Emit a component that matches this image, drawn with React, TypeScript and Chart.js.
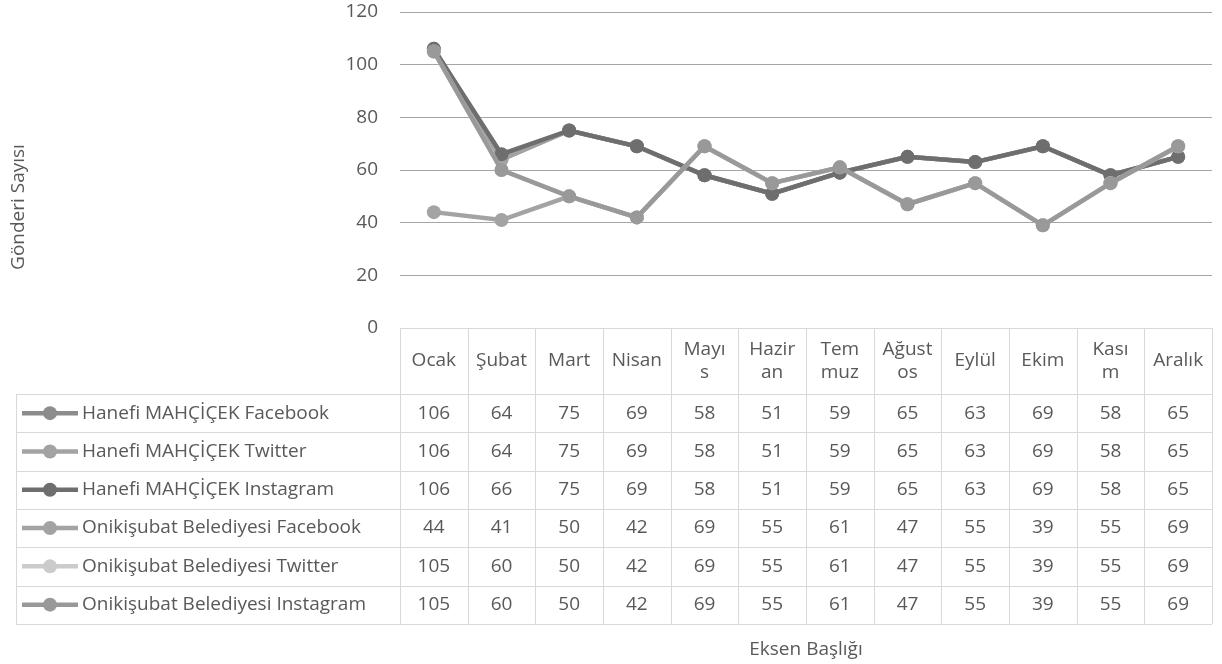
import React, { useEffect, useRef } from 'react';
import { Chart, registerables } from 'chart.js';

Chart.register(...registerables);

const categories = ['Ocak', 'Şubat', 'Mart', 'Nisan', 'Mayıs', 'Haziran', 'Temmuz', 'Ağustos', 'Eylül', 'Ekim', 'Kasım', 'Aralık'];
const headerLines = [['Ocak'], ['Şubat'], ['Mart'], ['Nisan'], ['Mayı', 's'], ['Hazir', 'an'], ['Tem', 'muz'], ['Ağust', 'os'], ['Eylül'], ['Ekim'], ['Kası', 'm'], ['Aralık']];

const seriesNames = [
  'Hanefi MAHÇİÇEK Facebook',
  'Hanefi MAHÇİÇEK Twitter',
  'Hanefi MAHÇİÇEK Instagram',
  'Onikişubat Belediyesi Facebook',
  'Onikişubat Belediyesi Twitter',
  'Onikişubat Belediyesi Instagram',
];
const hanefiFacebook = [106, 64, 75, 69, 58, 51, 59, 65, 63, 69, 58, 65];
const hanefiTwitter = [106, 64, 75, 69, 58, 51, 59, 65, 63, 69, 58, 65];
const hanefiInstagram = [106, 66, 75, 69, 58, 51, 59, 65, 63, 69, 58, 65];
const onikisubatFacebook = [44, 41, 50, 42, 69, 55, 61, 47, 55, 39, 55, 69];
const onikisubatTwitter = [105, 60, 50, 42, 69, 55, 61, 47, 55, 39, 55, 69];
const onikisubatInstagram = [105, 60, 50, 42, 69, 55, 61, 47, 55, 39, 55, 69];
const seriesValues = [hanefiFacebook, hanefiTwitter, hanefiInstagram, onikisubatFacebook, onikisubatTwitter, onikisubatInstagram];
const seriesColors = ['#8c8c8c', '#a3a3a3', '#6e6e6e', '#a3a3a3', '#cbcbcb', '#999999'];

const yTitle = 'Gönderi Sayısı';
const xTitle = 'Eksen Başlığı';

const FONT = '"Open Sans", sans-serif';
const FONT_SIZE = 19;
const TEXT = '#595959';
const BORDER = '#d9d9d9';
const GRID = '#a6a6a6';

const HEADER_H = 66;
const ROW_H = 38.3;
const TABLE_LEFT = 16;

const tablePlugin = {
  id: 'dataTable',
  afterDraw(chart: any) {
    const { ctx, chartArea, scales } = chart;
    const xs = scales.x;
    const left = chartArea.left;
    const right = chartArea.right;
    const top = chartArea.bottom;
    const n = categories.length;
    const colW = (right - left) / n;
    const rowsTop = top + HEADER_H;
    const rowsCount = seriesNames.length;
    const bottom = rowsTop + ROW_H * rowsCount;
    const px = (v: number) => Math.round(v) + 0.5;

    ctx.save();
    ctx.strokeStyle = BORDER;
    ctx.lineWidth = 1;
    ctx.beginPath();
    ctx.moveTo(left, px(top));
    ctx.lineTo(right, px(top));
    for (let k = 0; k <= rowsCount; k++) {
      const y = px(rowsTop + k * ROW_H);
      ctx.moveTo(TABLE_LEFT, y);
      ctx.lineTo(right, y);
    }
    for (let i = 0; i <= n; i++) {
      const x = px(left + i * colW);
      ctx.moveTo(x, top);
      ctx.lineTo(x, bottom);
    }
    ctx.moveTo(px(TABLE_LEFT), rowsTop);
    ctx.lineTo(px(TABLE_LEFT), bottom);
    ctx.stroke();

    ctx.fillStyle = TEXT;
    ctx.font = `${FONT_SIZE}px ${FONT}`;
    ctx.textAlign = 'center';
    ctx.textBaseline = 'middle';
    headerLines.forEach((lines, i) => {
      const cx = xs.getPixelForValue(i);
      const cy = top + HEADER_H / 2;
      const lh = 23;
      lines.forEach((ln, j) => {
        ctx.fillText(ln, cx, cy + (j - (lines.length - 1) / 2) * lh);
      });
    });
    seriesNames.forEach((name, r) => {
      const cy = rowsTop + ROW_H * (r + 0.5);
      ctx.textAlign = 'center';
      ctx.fillStyle = TEXT;
      seriesValues[r].forEach((v, i) => {
        ctx.fillText(String(v), xs.getPixelForValue(i), cy);
      });
      ctx.strokeStyle = seriesColors[r];
      ctx.lineWidth = 4.5;
      ctx.beginPath();
      ctx.moveTo(22, cy);
      ctx.lineTo(78, cy);
      ctx.stroke();
      ctx.fillStyle = seriesColors[r];
      ctx.beginPath();
      ctx.arc(50, cy, 7, 0, Math.PI * 2);
      ctx.fill();
      ctx.fillStyle = TEXT;
      ctx.textAlign = 'left';
      ctx.fillText(name, 82, cy);
    });

    ctx.textAlign = 'center';
    ctx.fillStyle = TEXT;
    ctx.fillText(xTitle, (left + right) / 2, 650);
    ctx.save();
    ctx.translate(19, 207);
    ctx.rotate(-Math.PI / 2);
    ctx.fillText(yTitle, 0, 0);
    ctx.restore();
    ctx.restore();
  },
};

export default function App() {
  const ref = useRef<HTMLCanvasElement | null>(null);
  useEffect(() => {
    if (!ref.current) return;
    const chart = new Chart(ref.current, {
      type: 'line',
      data: {
        labels: categories,
        datasets: seriesNames.map((name, i) => ({
          label: name,
          data: seriesValues[i],
          borderColor: seriesColors[i],
          backgroundColor: seriesColors[i],
          pointBackgroundColor: seriesColors[i],
          pointBorderColor: seriesColors[i],
          borderWidth: 4.5,
          pointRadius: 7,
          pointBorderWidth: 0,
          tension: 0,
          order: seriesNames.length - 1 - i,
        })),
      },
      options: {
        responsive: false,
        animation: false,
        devicePixelRatio: 1,
        layout: { padding: { top: 12, left: 0, right: 10, bottom: 336 } },
        plugins: {
          legend: { display: false },
          tooltip: { enabled: false },
        },
        scales: {
          x: {
            type: 'category',
            display: false,
            offset: true,
          },
          y: {
            min: 0,
            max: 120,
            ticks: {
              stepSize: 20,
              padding: 22,
              color: TEXT,
              font: { family: FONT, size: FONT_SIZE },
            },
            border: { display: false },
            grid: {
              drawTicks: false,
              lineWidth: 1,
              color: (c: any) => (c.tick && c.tick.value === 0 ? 'rgba(0,0,0,0)' : GRID),
            },
            afterFit: (s: any) => {
              s.width = 400;
              s.paddingTop = 0;
              s.paddingBottom = 0;
            },
          },
        },
      },
      plugins: [tablePlugin],
    });
    return () => chart.destroy();
  }, []);
  return (
    <div style={{ position: 'fixed', left: 0, top: 0, width: 1222, height: 664, background: '#fff' }}>
      <canvas ref={ref} width={1222} height={664} style={{ display: 'block' }} />
    </div>
  );
}
